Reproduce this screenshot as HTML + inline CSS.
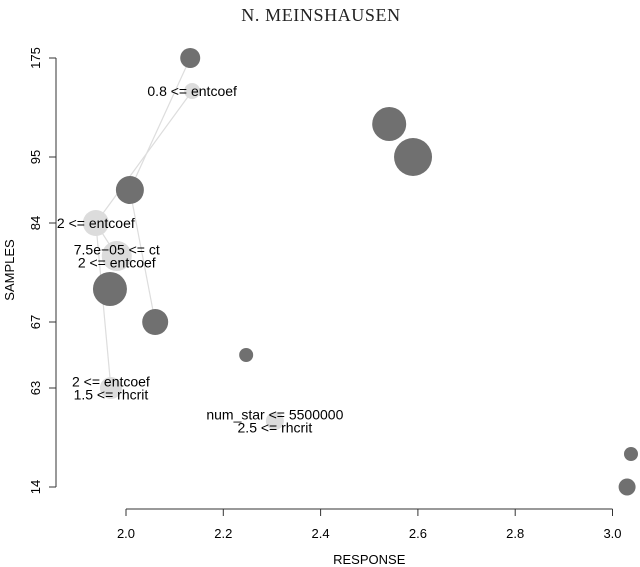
<!DOCTYPE html>
<html><head><meta charset="utf-8"><style>
body{margin:0;background:#fff}
svg{display:block;font-family:"Liberation Sans",sans-serif}
</style></head><body>
<svg id="c" width="640" height="567" viewBox="0 0 640 567">
<text x="321" y="21" text-anchor="middle" font-family="Liberation Serif,serif" font-size="18" letter-spacing="0.6" fill="#222">N. MEINSHAUSEN</text>
<g id="axes"></g><g id="edges"></g><g id="marks"></g><g id="labels"></g>
</svg>
<script>
const xTicks=[2.0,2.2,2.4,2.6,2.8,3.0];
const yTickLabels=["14","63","67","84","95","175"];
const yTickPos=[0,1.5,2.5,4,5,6.5];
const darkX=[2.132,2.541,2.590,2.008,1.967,2.060,2.247,3.038,3.030];
const darkY=[6.5,5.5,5.0,4.5,3.0,2.5,2.0,0.5,0];
const darkR=[10,17,19,14,17,13,7,7,8.5];
const lightX=[2.136,1.938,1.981,1.969,2.306];
const lightY=[6.0,4.0,3.5,1.5,1.0];
const lightR=[8,13,15,11,9];
const lightLabels=[["0.8 <= entcoef"],["2 <= entcoef"],["7.5e\u221205 <= ct","2 <= entcoef"],["2 <= entcoef","1.5 <= rhcrit"],["num_star <= 5500000","2.5 <= rhcrit"]];
const edgeFrom=[[0,"d"],[0,"l"],[3,"d"],[1,"l"],[1,"l"]];
const edgeTo=[[3,"d"],[1,"l"],[5,"d"],[2,"l"],[3,"l"]];
const NS="http://www.w3.org/2000/svg";
const X=v=>126+(v-2)*486.5, Y=v=>487-v*66;
function mk(t,a,p){const e=document.createElementNS(NS,t);for(const k in a)e.setAttribute(k,a[k]);p.appendChild(e);return e;}
const ax=document.getElementById('axes');
let l=mk('line',{x1:X(2),x2:X(3),y1:509,y2:509,stroke:'#333'},ax);


xTicks.forEach(t=>{mk('line',{x1:X(t),x2:X(t),y1:509,y2:516,stroke:'#333'},ax);
 const e=mk('text',{x:X(t),y:538,'text-anchor':'middle','font-size':13,fill:'#000'},ax);e.textContent=t.toFixed(1);
 
 });
l=mk('line',{x1:56,x2:56,y1:Y(6.5),y2:Y(0),stroke:'#333'},ax);


yTickPos.forEach((p,i)=>{mk('line',{x1:49,x2:56,y1:Y(p),y2:Y(p),stroke:'#333'},ax);
 const e=mk('text',{x:0,y:0,transform:`translate(40,${Y(p)}) rotate(-90)`,'text-anchor':'middle','font-size':13,fill:'#000'},ax);e.textContent=yTickLabels[i];
 
 });
let t=mk('text',{x:0,y:0,transform:'translate(14,270) rotate(-90)','text-anchor':'middle','font-size':13,fill:'#000'},ax);t.textContent='SAMPLES';


t=mk('text',{x:X(2.5),y:564,'text-anchor':'middle','font-size':13,fill:'#000'},ax);t.textContent='RESPONSE';


const pt=(i,k)=>k=="d"?[X(darkX[i]),Y(darkY[i])]:[X(lightX[i]),Y(lightY[i])];
const eg=document.getElementById('edges');
edgeFrom.forEach((f,i)=>{const a=pt(...f),b=pt(...edgeTo[i]);
 const e=mk('line',{x1:a[0],y1:a[1],x2:b[0],y2:b[1],stroke:'#ddd','stroke-width':1.2},eg);
 
 });
const mg=document.getElementById('marks'),lg=document.getElementById('labels');
lightX.forEach((v,i)=>{const c=mk('circle',{cx:X(v),cy:Y(lightY[i]),r:lightR[i],fill:'#dcdcdc'},mg);
 
 
 const lines=lightLabels[i];
 lines.forEach((s,j)=>{const yy=Y(lightY[i])+5+(j-(lines.length-1)/2)*13;
  const e=mk('text',{x:X(v),y:yy,'text-anchor':'middle','font-size':14,fill:'#000'},lg);e.textContent=s;
  
  });});
darkX.forEach((v,i)=>{const c=mk('circle',{cx:X(v),cy:Y(darkY[i]),r:darkR[i],fill:'#707070'},mg);
 
 });
</script>
</body></html>
